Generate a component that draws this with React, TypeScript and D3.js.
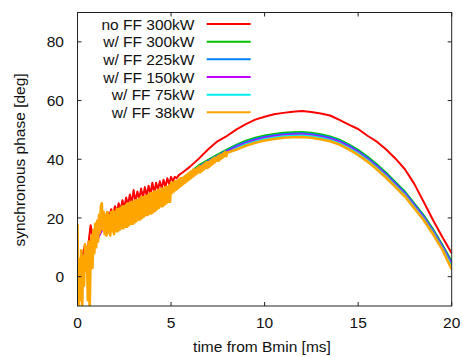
import React from "react";
import * as d3 from "d3";

const W = 462;
const H = 357;
const M = { left: 77.5, right: 451.7, top: 12.5, bottom: 306 };

const xTicks = [0, 5, 10, 15, 20];
const yTicks = [0, 20, 40, 60, 80];
const xDomain = [0, 20];
const yDomain = [-10, 90];

const seriesNames = ["no FF 300kW", "w/ FF 300kW", "w/ FF 225kW", "w/ FF 150kW", "w/ FF 75kW", "w/ FF 38kW"];
const seriesColors = ["#ff0000", "#00c000", "#0080ff", "#c000ff", "#00eeee", "#ffa500"];

// time grids (ms)
const tRedFine = d3.range(61).map((i) => i / 10); // 0..6 step 0.1
const tRedTail = d3.range(28).map((i) => 6.5 + i * 0.5); // 6.5..20
const tOrangeFine = d3.range(161).map((i) => i / 20); // 0..8 step 0.05
const tOrangeTail = d3.range(24).map((i) => 8.5 + i * 0.5); // 8.5..20
const tFull = d3.range(41).map((i) => i * 0.5); // 0..20

// no FF 300kW
const redFine = [
  0, -3, 4, 8, 11, 6, 12, 17.5, 14, 16,
  13, 18, 17, 22, 20, 20.5, 22, 20.5, 23, 21,
  24, 22, 25, 22.5, 26, 23.5, 27, 24.5, 28, 25,
  29.5, 25.5, 29, 26.5, 30, 27, 30.5, 27.5, 31, 28,
  32, 28.5, 32, 29.5, 32.5, 30, 33, 30.5, 33.5, 31.5,
  34, 32.5, 34, 33.5, 34.5, 35.0, 35.4, 35.9, 36.4, 36.9,
  37.4,
];
const redTail = [
  40.3, 43.5, 46.2, 48.0, 50.2, 52.0, 53.5, 54.5, 55.3, 55.8,
  56.2, 56.4, 56.1, 55.6, 54.9, 53.4, 51.8, 50.3, 48.0, 46.0,
  43.3, 40.2, 36.6, 31.6, 25.5, 19.3, 13.5, 8.0,
];

// w/ FF 38kW
const orangeFine = [
  18, -12, 6, -8, 9, -12, 7, -3, 11, 2, 10, -8, 12, -12, 6, 14, 3, 16, 8, 18,
  10, 19, 12, 21, 15, 24, 25, 16, 22, 14.5, 21, 14, 22, 15, 21, 14, 22, 15.5, 22.5, 14.5,
  22, 15.5, 23, 15.5, 23, 16, 23.5, 16.5, 24, 16.5, 24, 17, 24.5, 17, 25, 17.5, 25, 18, 25.5, 18,
  25.5, 18.5, 26, 19, 26, 19.5, 26.5, 19.5, 27, 20, 27, 20.5, 27.5, 21, 27.5, 21, 28, 21.5, 28.5, 21.5,
  28.5, 22, 29, 22.5, 29, 23, 29.5, 23.5, 29.5, 24, 30, 24, 30, 24.5, 30.5, 25, 30.5, 25.5, 31, 25.5,
  32, 28.5, 32, 29, 32.5, 29.5, 32.5, 30, 33, 30.5, 33.5, 31, 33.5, 31.5, 34, 32, 34.5, 32.5, 35, 33,
  35.5, 33.5, 36, 34, 36.5, 34.5, 36.5, 35, 37, 35.5, 37.5, 35.5, 37.5, 36, 38, 36.5, 38.5, 37, 39, 37,
  39, 37.5, 39.5, 38, 40, 38.5, 40.5, 39, 40.5, 39.5, 41, 39.5, 41.5, 40, 41.5, 40.5, 42, 41, 42.5, 41,
  42.2,
];
const orangeTail = [
  43.3, 44.6, 45.6, 46.4, 46.9, 47.3, 47.5, 47.6, 47.3, 46.8,
  46.1, 45.0, 43.4, 41.5, 39.2, 36.6, 33.7, 30.5, 27.3, 23.3,
  19.3, 14.5, 9.2, 2.5,
];

// w/ FF 300kW
const green = [
  5, 3, 14, 19, 19.5, 21.5, 23.5, 25.5, 27.5, 29.5,
  31, 33, 35.3, 38.0, 39.9, 41.7, 43.4, 45.0, 46.3, 47.3,
  48.1, 48.6, 49.0, 49.2, 49.3, 49.0, 48.5, 47.8, 46.7, 45.1,
  43.2, 40.9, 38.3, 35.4, 32.2, 29.0, 25.0, 21.0, 16.2, 10.9,
  5.2,
];
// w/ FF 225kW
const blue = [
  4, 2, 13, 18.5, 19, 21, 23, 25, 27, 29,
  30.5, 32.6, 34.9, 37.6, 39.5, 41.3, 43.0, 44.6, 45.9, 46.9,
  47.7, 48.2, 48.6, 48.8, 48.9, 48.6, 48.1, 47.4, 46.3, 44.7,
  42.8, 40.5, 37.9, 35.0, 31.8, 28.6, 24.6, 20.6, 15.8, 10.5,
  4.7,
];
// w/ FF 150kW
const magenta = [
  3, 4, 12, 18, 19.5, 20.5, 23, 25, 26.5, 28.5,
  30.5, 32.4, 34.6, 37.2, 39.1, 40.9, 42.6, 44.2, 45.5, 46.5,
  47.3, 47.8, 48.2, 48.4, 48.5, 48.2, 47.7, 47.0, 45.9, 44.3,
  42.4, 40.1, 37.5, 34.6, 31.4, 28.2, 24.2, 20.2, 15.4, 10.1,
  4.2,
];
// w/ FF 75kW
const cyan = [
  6, 5, 15, 19, 18.5, 21, 22.5, 24.5, 26.5, 28.5,
  30, 32.2, 34.3, 36.8, 38.7, 40.5, 42.2, 43.8, 45.1, 46.1,
  46.9, 47.4, 47.8, 48.0, 48.1, 47.8, 47.3, 46.6, 45.5, 43.9,
  42.0, 39.7, 37.1, 34.2, 31.0, 27.8, 23.8, 19.8, 15.0, 9.7,
  3.6,
];

const zip = (t: number[], v: number[]) => t.map((x, i) => [x, v[i]] as [number, number]);

export default function App() {
  const x = d3.scaleLinear().domain(xDomain).range([M.left, M.right]);
  const y = d3.scaleLinear().domain(yDomain).range([M.bottom, M.top]);
  const line = d3
    .line<[number, number]>()
    .x((d) => x(d[0]))
    .y((d) => y(d[1]));

  const seriesData: [number, number][][] = [
    [...zip(tRedFine, redFine), ...zip(tRedTail, redTail)],
    zip(tFull, green),
    zip(tFull, blue),
    zip(tFull, magenta),
    zip(tFull, cyan),
    [...zip(tOrangeFine, orangeFine), ...zip(tOrangeTail, orangeTail)],
  ];
  const widths = [2, 2, 2, 2, 2, 2.6];

  const font = "'Liberation Sans', Arial, sans-serif";
  const fs = 15.5;
  const legendY0 = 24;
  const legendStep = 17.66;

  return (
    <svg width={W} height={H} style={{ position: "absolute", left: 0, top: 0 }} fontFamily={font}>
      <rect x={0} y={0} width={W} height={H} fill="#fff" />
      <defs>
        <clipPath id="plotclip">
          <rect x={M.left} y={M.top} width={M.right - M.left} height={M.bottom - M.top} />
        </clipPath>
      </defs>
      <g clipPath="url(#plotclip)">
        {seriesData.map((d, i) => (
          <path
            key={i}
            d={line(d) || ""}
            fill="none"
            stroke={seriesColors[i]}
            strokeWidth={widths[i]}
            strokeLinejoin="round"
          />
        ))}
      </g>
      {/* frame */}
      <rect
        x={M.left}
        y={M.top}
        width={M.right - M.left}
        height={M.bottom - M.top}
        fill="none"
        stroke="#222"
        strokeWidth={1}
      />
      {/* ticks */}
      {xTicks.map((t) => (
        <g key={"xt" + t}>
          <line x1={x(t)} x2={x(t)} y1={M.bottom} y2={M.bottom - 4} stroke="#222" />
          <line x1={x(t)} x2={x(t)} y1={M.top} y2={M.top + 4} stroke="#222" />
          <text x={x(t)} y={328} textAnchor="middle" fontSize={fs} fill="#111">
            {t}
          </text>
        </g>
      ))}
      {yTicks.map((t) => (
        <g key={"yt" + t}>
          <line x1={M.left} x2={M.left + 4} y1={y(t)} y2={y(t)} stroke="#222" />
          <line x1={M.right} x2={M.right - 4} y1={y(t)} y2={y(t)} stroke="#222" />
          <text x={64} y={y(t)} dy="0.36em" textAnchor="end" fontSize={fs} fill="#111">
            {t}
          </text>
        </g>
      ))}
      <text x={262} y={352} textAnchor="middle" fontSize={fs} fill="#111">
        time from Bmin [ms]
      </text>
      <text
        transform={`translate(20,160) rotate(-90)`}
        textAnchor="middle"
        dy="0.35em"
        fontSize={fs}
        fill="#111"
      >
        synchronous phase [deg]
      </text>
      {/* legend */}
      {seriesNames.map((n, i) => (
        <g key={"lg" + i}>
          <text x={194.5} y={legendY0 + i * legendStep} dy="0.36em" textAnchor="end" fontSize={fs} fill="#111">
            {n}
          </text>
          <line
            x1={206.7}
            x2={250.7}
            y1={legendY0 + i * legendStep}
            y2={legendY0 + i * legendStep}
            stroke={seriesColors[i]}
            strokeWidth={2}
          />
        </g>
      ))}
    </svg>
  );
}
